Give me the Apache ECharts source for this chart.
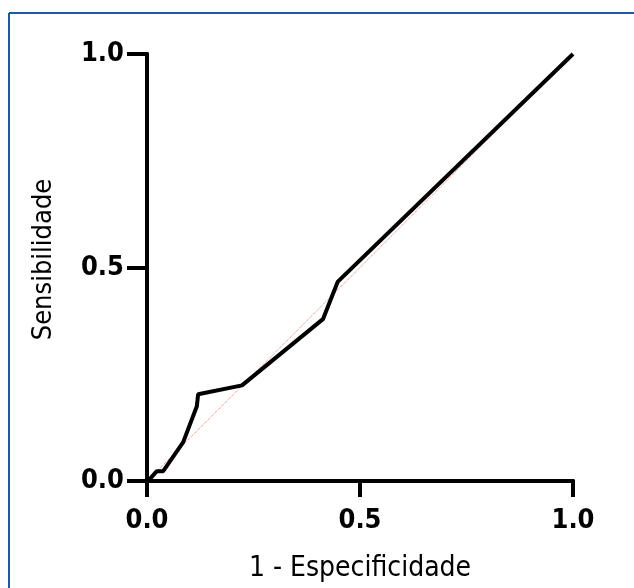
<!DOCTYPE html>
<html>
<head>
<meta charset="utf-8">
<script src="https://cdn.jsdelivr.net/npm/echarts@6/dist/echarts.min.js"></script>
<style>html,body{margin:0;padding:0;background:#fff;}#c{width:634px;height:588px;}</style>
</head>
<body>
<div id="c"></div>
<script>
// ROC curve points (1 - Especificidade, Sensibilidade)
var rocX = [0.0, 0.007, 0.023, 0.038, 0.085, 0.117, 0.12, 0.223, 0.413, 0.448, 1.0];
var rocY = [0.0, 0.005, 0.023, 0.023, 0.091, 0.175, 0.203, 0.224, 0.379, 0.467, 1.0];
var refX = [0, 1];
var refY = [0, 1];
var tickVals = [0, 0.5, 1.0];
var xTitle = '1 - Especificidade';
var yTitle = 'Sensibilidade';

var chart = echarts.init(document.getElementById('c'), null, {renderer: 'canvas'});
var rocData = rocX.map(function (x, i) { return [x, rocY[i]]; });
var refData = refX.map(function (x, i) { return [x, refY[i]]; });
var FONT = '"DejaVu Sans Condensed", "DejaVu Sans", sans-serif';
var lbl = {fontFamily: FONT, fontWeight: 'bold', fontSize: 27, color: '#000',
  formatter: function (v) { return v.toFixed(1); }};
var lineStyle = {color: '#000', width: 4};
chart.setOption({
  animation: false,
  backgroundColor: '#fff',
  grid: {left: 147, right: 61, top: 54, bottom: 106, show: false},
  xAxis: [{
    type: 'value', min: 0, max: 1, interval: 0.5, position: 'bottom',
    axisLine: {show: true, lineStyle: lineStyle},
    axisTick: {show: true, length: 16, lineStyle: lineStyle},
    axisLabel: Object.assign({margin: 26}, lbl),
    splitLine: {show: false},
    name: xTitle, nameLocation: 'middle', nameGap: 74,
    nameTextStyle: {fontFamily: FONT, fontSize: 28, color: '#000'}
  }, {
    type: 'value', min: 0, max: 1, position: 'top',
    axisLine: {show: true, lineStyle: lineStyle},
    axisTick: {show: false}, axisLabel: {show: false}, splitLine: {show: false}
  }],
  yAxis: [{
    type: 'value', min: 0, max: 1, interval: 0.5, position: 'left',
    axisLine: {show: true, lineStyle: lineStyle},
    axisTick: {show: true, length: 20, lineStyle: lineStyle},
    axisLabel: Object.assign({margin: 23}, lbl),
    splitLine: {show: false},
    name: yTitle, nameLocation: 'middle', nameGap: 90,
    nameTextStyle: {fontFamily: FONT, fontSize: 27, color: '#000', padding: [0, 0, 0, 16]}
  }, {
    type: 'value', min: 0, max: 1, position: 'right',
    axisLine: {show: true, lineStyle: lineStyle},
    axisTick: {show: false}, axisLabel: {show: false}, splitLine: {show: false}
  }],
  graphic: [
    {type: 'line', shape: {x1: 9, y1: 13, x2: 634, y2: 13}, style: {stroke: '#1a5aa6', lineWidth: 2}},
    {type: 'line', shape: {x1: 9, y1: 13, x2: 9, y2: 588}, style: {stroke: '#1a5aa6', lineWidth: 2}}
  ],
  series: [{
    type: 'line', data: refData, symbol: 'none', z: 1,
    lineStyle: {color: '#e05050', width: 1, type: 'dotted', opacity: 0.8}
  }, {
    type: 'line', data: rocData, symbol: 'none', z: 2,
    lineStyle: {color: '#000', width: 4}
  }]
});
</script>
</body>
</html>
